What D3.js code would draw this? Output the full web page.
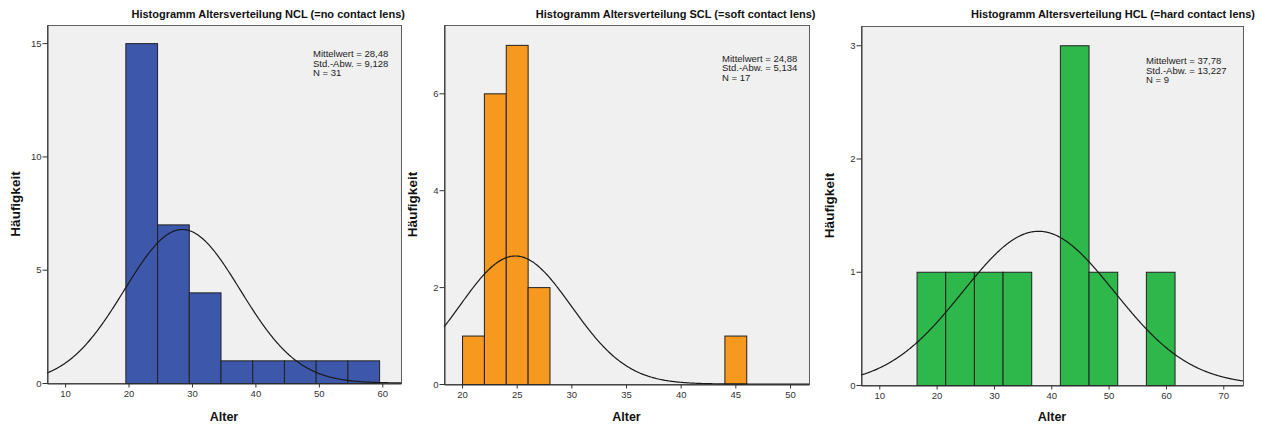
<!DOCTYPE html>
<html>
<head>
<meta charset="utf-8">
<script src="https://cdnjs.cloudflare.com/ajax/libs/d3/7.8.5/d3.min.js"></script>
<style>
	html, body { margin: 0; padding: 0; background: #fff; }
	svg text { font-family: "Liberation Sans", Arial, sans-serif; }
	.tick text { fill: #333; font-size: 9.5px; }
	.tick line { stroke: #333; }
	.domain { stroke: #333; }
</style>
</head>
<body>
<div id="chart"></div>
<script>

// titles
var titles = [
	"Histogramm Altersverteilung NCL (=no contact lens)",
	"Histogramm Altersverteilung SCL (=soft contact lens)",
	"Histogramm Altersverteilung HCL (=hard contact lens)"
];

// bin lower edges, bin widths, counts
var nclBins = [19.5, 24.5, 29.5, 34.5, 39.5, 44.5, 49.5, 54.5];
var nclCounts = [15, 7, 4, 1, 1, 1, 1, 1];
var sclBins = [20, 22, 24, 26, 44];
var sclCounts = [1, 6, 7, 2, 1];
var hclBins = [16.5, 21.5, 26.5, 31.5, 41.5, 46.5, 56.5];
var hclCounts = [1, 1, 1, 1, 3, 1, 1];
var binWidths = [5, 2, 5];

// summary statistics
var means = [28.48, 24.88, 37.78];
var stdDevs = [9.128, 5.134, 13.227];
var ns = [31, 17, 9];
var meanLabels = ["28,48", "24,88", "37,78"];
var sdLabels = ["9,128", "5,134", "13,227"];

// axis ticks
var xTicks = [[10, 20, 30, 40, 50, 60], [20, 25, 30, 35, 40, 45, 50], [10, 20, 30, 40, 50, 60, 70]];
var yTicks = [[0, 5, 10, 15], [0, 2, 4, 6], [0, 1, 2, 3]];
var xDomains = [[7.15, 62.95], [18.35, 51.74], [6.81, 73.44]];
var yMax = [15.8, 7.41, 3.17];

var colors = ["#3d57ab", "#f7991e", "#2eb84b"];

// frame layout for each panel
var frames = [
	{left: 47, right: 401, top: 25, bottom: 383, titleX: 405, statsX: 313, statsY: 57},
	{left: 444, right: 809, top: 25, bottom: 384, titleX: 815.5, statsX: 722, statsY: 61.5},
	{left: 861, right: 1243, top: 26, bottom: 385, titleX: 1255, statsX: 1146, statsY: 64}
];

var allBins = [nclBins, sclBins, hclBins];
var allCounts = [nclCounts, sclCounts, hclCounts];

var svg = d3.select("#chart").append("svg")
	.attr("width", 1267)
	.attr("height", 427);

var drawPanel = function(i) {
	var f = frames[i],
		x, y, g, bins, curve;

	x = d3.scaleLinear().domain(xDomains[i]).range([f.left, f.right]);
	y = d3.scaleLinear().domain([0, yMax[i]]).range([f.bottom, f.top]);

	g = svg.append("g").attr("class", "panel");

	// plot background and frame
	g.append("rect")
		.attr("x", f.left + 0.5)
		.attr("y", f.top + 0.5)
		.attr("width", f.right - f.left)
		.attr("height", f.bottom - f.top)
		.attr("fill", "#f0f0f0")
		.attr("stroke", "#5e5e5e");

	// bars
	bins = allBins[i].map(function(b, j) { return {x0: b, x1: b + binWidths[i], n: allCounts[i][j]}; });

	g.selectAll("rect.bar")
		.data(bins)
		.enter()
		.append("rect")
		.attr("class", "bar")
		.attr("x", function(d) { return x(d.x0) + 0.5; })
		.attr("y", function(d) { return y(d.n) + 0.5; })
		.attr("width", function(d) { return x(d.x1) - x(d.x0); })
		.attr("height", function(d) { return y(0) - y(d.n); })
		.attr("fill", colors[i])
		.attr("stroke", "#222")
		.attr("stroke-width", 1);

	// fitted normal curve
	curve = d3.range(xDomains[i][0], xDomains[i][1], 0.1).concat([xDomains[i][1]]).map(function(v) {
		var z = (v - means[i]) / stdDevs[i];
		return [v, ns[i] * binWidths[i] * Math.exp(-0.5 * z * z) / (stdDevs[i] * Math.sqrt(2 * Math.PI))];
	});

	g.append("path")
		.datum(curve)
		.attr("fill", "none")
		.attr("stroke", "#1a1a1a")
		.attr("stroke-width", 1.2)
		.attr("d", d3.line().x(function(d) { return x(d[0]); }).y(function(d) { return y(d[1]); }));

	// axes
	g.append("g")
		.attr("transform", "translate(0," + (f.bottom + 0.5) + ")")
		.call(d3.axisBottom(x).tickValues(xTicks[i]).tickFormat(d3.format("d")).tickSize(4).tickPadding(3).tickSizeOuter(0));

	g.append("g")
		.attr("transform", "translate(" + (f.left + 0.5) + ",0)")
		.call(d3.axisLeft(y).tickValues(yTicks[i]).tickFormat(d3.format("d")).tickSize(5).tickPadding(1).tickSizeOuter(0));

	// title
	g.append("text")
		.attr("x", f.titleX)
		.attr("y", 18)
		.attr("text-anchor", "end")
		.attr("font-size", "11px")
		.attr("font-weight", "bold")
		.attr("fill", "#111")
		.text(titles[i]);

	// stats box
	g.selectAll("text.stats")
		.data(["Mittelwert = " + meanLabels[i], "Std.-Abw. = " + sdLabels[i], "N = " + ns[i]])
		.enter()
		.append("text")
		.attr("class", "stats")
		.attr("x", f.statsX)
		.attr("y", function(d, j) { return f.statsY + j * 9.6; })
		.attr("font-size", "9.5px")
		.attr("fill", "#222")
		.text(function(d) { return d; });

	// axis titles
	g.append("text")
		.attr("text-anchor", "middle")
		.attr("transform", "translate(" + (f.left - 27) + "," + ((f.top + f.bottom) / 2) + ")rotate(-90)")
		.attr("font-size", "13.5px")
		.attr("font-weight", "bold")
		.attr("fill", "#111")
		.text("Häufigkeit");

	g.append("text")
		.attr("text-anchor", "middle")
		.attr("x", (f.left + f.right) / 2)
		.attr("y", 421)
		.attr("font-size", "12.5px")
		.attr("font-weight", "bold")
		.attr("fill", "#111")
		.text("Alter");
}

for (var i = 0; i < 3; i++) {
	drawPanel(i);
}

</script>
</body>
</html>
